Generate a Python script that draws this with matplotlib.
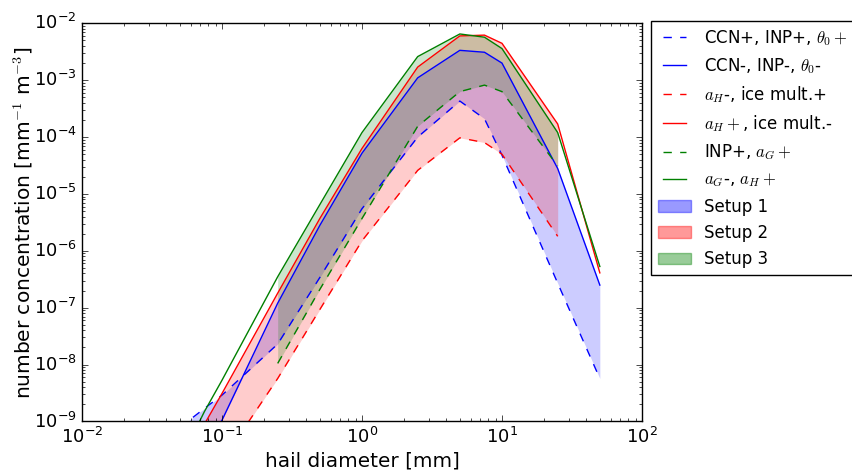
import numpy as np
import matplotlib
matplotlib.use('Agg')
import matplotlib.pyplot as plt
from matplotlib.patches import Patch

plt.style.use('classic')

nan = np.nan
diam = [0.05, 0.075, 0.1, 0.25, 0.5, 1, 2.5, 5, 7.5, 10, 25, 50]

# setup 1
s1_plus = [7.8e-10, 1.7e-9, 2.9e-9, 2.3e-8, 3.4e-7, 5.5e-6, 1.0e-4, 4.3e-4, 2.1e-4, 4.8e-5, 2.7e-7, 5.7e-9]
s1_minus = [1e-10, 4e-10, 1.05e-9, 1.2e-7, 2.8e-6, 5.2e-5, 1.1e-3, 3.35e-3, 3.1e-3, 2.0e-3, 2.8e-5, 2.5e-7]
# setup 2
s2_plus = [5e-11, 1e-10, 2e-10, 5.7e-9, 9.3e-8, 1.5e-6, 2.6e-5, 9.7e-5, 8.0e-5, 5.0e-5, 1.8e-6, nan]
s2_minus = [2e-10, 9e-10, 3.1e-9, 1.8e-7, 3.7e-6, 6.3e-5, 1.7e-3, 6.0e-3, 6.2e-3, 4.45e-3, 1.7e-4, 4.1e-7]
# setup 3
s3_plus = [nan, nan, nan, 1.05e-8, 2.1e-7, 3.7e-6, 1.55e-4, 6.3e-4, 8.2e-4, 6.3e-4, 3.1e-5, nan]
s3_minus = [2e-10, 1.5e-9, 5.3e-9, 3.5e-7, 6.5e-6, 1.2e-4, 2.6e-3, 6.5e-3, 5.7e-3, 3.6e-3, 1.2e-4, 5.3e-7]

labels = [r'CCN+, INP+, $\theta_0+$', r'CCN-, INP-, $\theta_0$-',
          r'$a_H$-, ice mult.+', r'$a_H+$, ice mult.-',
          r'INP+, $a_G+$', r'$a_G$-, $a_H+$']
setups = ['Setup 1', 'Setup 2', 'Setup 3']
colors = ['b', 'r', 'g']

fig = plt.figure(figsize=(8.52, 4.74), dpi=100)
ax = fig.add_axes([0.0962, 0.1108, 0.6573, 0.84])

series = [(s1_plus, s1_minus), (s2_plus, s2_minus), (s3_plus, s3_minus)]
handles = []
for i, (lo, hi) in enumerate(series):
    c = colors[i]
    h1, = ax.plot(diam, lo, '--', color=c, lw=1)
    h2, = ax.plot(diam, hi, '-', color=c, lw=1)
    ax.fill_between(diam, lo, hi, color=c, alpha=0.2, lw=0)
    handles += [h1, h2]
for i, c in enumerate(colors):
    handles.append(Patch(facecolor=c, edgecolor=c, alpha=0.4))

ax.set_xscale('log')
ax.set_yscale('log')
ax.set_xlim(1e-2, 1e2)
ax.set_ylim(1e-9, 1e-2)
ax.set_xlabel('hail diameter [mm]', fontsize=14.4, labelpad=3)
ax.set_ylabel(r'number concentration [mm$^{-1}$ m$^{-3}$]', fontsize=14.5, labelpad=-1)
ax.tick_params(labelsize=13)

fig.legend(handles, labels + setups, loc='upper left',
           bbox_to_anchor=(651 / 852, 1 - 21 / 474), fontsize=12,
           borderaxespad=0)

fig.savefig('out.png', dpi=100)
